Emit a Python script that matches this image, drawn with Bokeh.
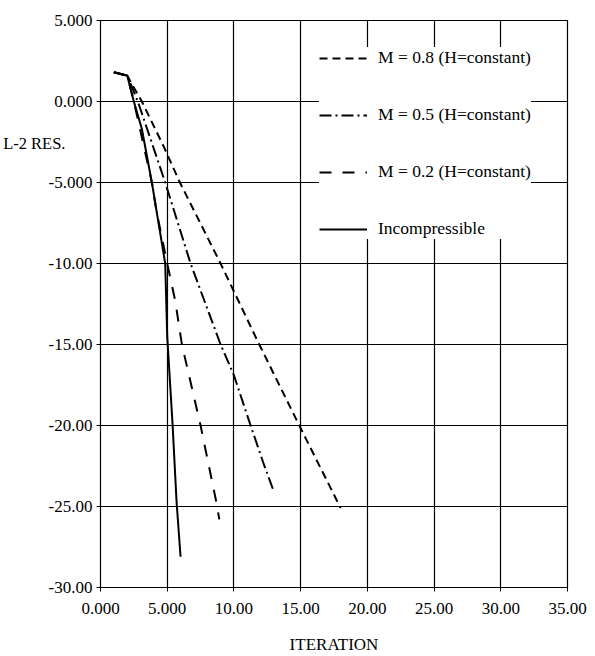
from bokeh.plotting import figure
from bokeh.models import Range1d, FixedTicker, Legend, LegendItem, LinearAxis
from bokeh.embed import file_html
from bokeh.resources import INLINE

# ---- data ----
x_ticks = [0, 5, 10, 15, 20, 25, 30, 35]
x_tick_labels = ["0.000", "5.000", "10.00", "15.00", "20.00", "25.00", "30.00", "35.00"]
y_ticks = [5, 0, -5, -10, -15, -20, -25, -30]
y_tick_labels = ["5.000", "0.000", "-5.000", "-10.00", "-15.00", "-20.00", "-25.00", "-30.00"]

iter_m08 = [1.0, 2.0, 2.4, 3.1, 4.75, 5.95, 9.0, 11.9, 14.9, 18.0]
res_m08 = [1.8, 1.6, 1.0, 0.0, -2.8, -5.0, -10.0, -15.0, -20.0, -25.1]

iter_m05 = [1.0, 2.0, 2.8, 4.85, 6.75, 9.0, 10.0, 11.25, 12.2, 13.0]
res_m05 = [1.8, 1.6, 0.0, -5.0, -10.0, -15.0, -16.9, -20.0, -22.3, -24.1]

iter_m02 = [1.0, 2.0, 2.5, 3.85, 4.2, 5.0, 5.6, 6.1, 7.5, 8.75, 8.9]
res_m02 = [1.8, 1.6, 0.0, -5.0, -6.8, -10.0, -12.3, -15.0, -20.0, -25.0, -25.8]

iter_inc = [1.0, 2.0, 2.5, 3.1, 3.85, 4.85, 5.0, 5.4, 5.7, 6.0]
res_inc = [1.8, 1.6, 0.0, -1.7, -5.0, -10.0, -14.5, -19.9, -24.7, -28.1]

labels = ["M = 0.8 (H=constant)", "M = 0.5 (H=constant)", "M = 0.2 (H=constant)", "Incompressible"]
y_title = "L-2 RES."
y_title_at = -2.6
x_title = "ITERATION"

FONT = "Liberation Serif"

p = figure(width=595, height=656,
           x_range=Range1d(0, 35), y_range=Range1d(-30, 5),
           output_backend="svg", toolbar_location=None,
           min_border_left=100, min_border_right=28,
           min_border_top=20, min_border_bottom=69)

p.background_fill_color = "white"
p.border_fill_color = "white"
p.outline_line_color = "black"
p.outline_line_width = 1.2

# axes
for ax in (p.xaxis[0], p.yaxis[0]):
    ax.axis_line_color = "black"
    ax.major_tick_line_color = "black"
    ax.major_tick_out = 4
    ax.major_tick_in = 0
    ax.minor_tick_line_color = None
    ax.major_label_text_font = FONT
    ax.major_label_text_font_size = "17px"
    ax.major_label_text_color = "black"

p.xaxis[0].ticker = FixedTicker(ticks=x_ticks)
p.yaxis[0].ticker = FixedTicker(ticks=y_ticks)
p.xaxis[0].major_label_overrides = {t: s for t, s in zip(x_ticks, x_tick_labels)}
p.yaxis[0].major_label_overrides = {t: s for t, s in zip(y_ticks, y_tick_labels)}
p.xaxis[0].major_label_standoff = 11
p.yaxis[0].major_label_standoff = 4

p.xaxis[0].axis_label = x_title
p.xaxis[0].axis_label_text_font = FONT
p.xaxis[0].axis_label_text_font_size = "17px"
p.xaxis[0].axis_label_text_font_style = "normal"
p.xaxis[0].axis_label_text_color = "black"
p.xaxis[0].axis_label_standoff = 18

# horizontal y title, drawn as the single label of an extra bare axis on the left
title_axis = LinearAxis(ticker=FixedTicker(ticks=[y_title_at]),
                        major_label_overrides={y_title_at: y_title},
                        axis_line_color=None, major_tick_line_color=None,
                        minor_tick_line_color=None,
                        major_label_standoff=-26,
                        major_label_text_font=FONT,
                        major_label_text_font_size="16.5px",
                        major_label_text_color="black")
p.add_layout(title_axis, "left")

# grid
p.xgrid.ticker = FixedTicker(ticks=x_ticks)
p.ygrid.ticker = FixedTicker(ticks=y_ticks)
for g in (p.xgrid[0], p.ygrid[0]):
    g.grid_line_color = "black"
    g.grid_line_width = 1.2
    g.grid_line_alpha = 1.0

# curves
r08 = p.line(iter_m08, res_m08, line_color="black", line_width=2, line_dash="8 5")
r05 = p.line(iter_m05, res_m05, line_color="black", line_width=2, line_dash="12 4 2 4")
r02 = p.line(iter_m02, res_m02, line_color="black", line_width=2, line_dash="12 11")
rin = p.line(iter_inc, res_inc, line_color="black", line_width=2)

legend = Legend(items=[LegendItem(label=labels[0], renderers=[r08]),
                       LegendItem(label=labels[1], renderers=[r05]),
                       LegendItem(label=labels[2], renderers=[r02]),
                       LegendItem(label=labels[3], renderers=[rin])],
                location=(219, 348))
legend.label_text_font = FONT
legend.label_text_font_size = "17.5px"
legend.label_text_color = "black"
legend.glyph_width = 48
legend.glyph_height = 20
legend.label_height = 20
legend.label_standoff = 11
legend.spacing = 36
legend.padding = 8
legend.margin = 0
legend.background_fill_color = "white"
legend.background_fill_alpha = 1.0
legend.border_line_color = None
p.add_layout(legend)

open("out.html", "w").write(file_html(p, INLINE))
